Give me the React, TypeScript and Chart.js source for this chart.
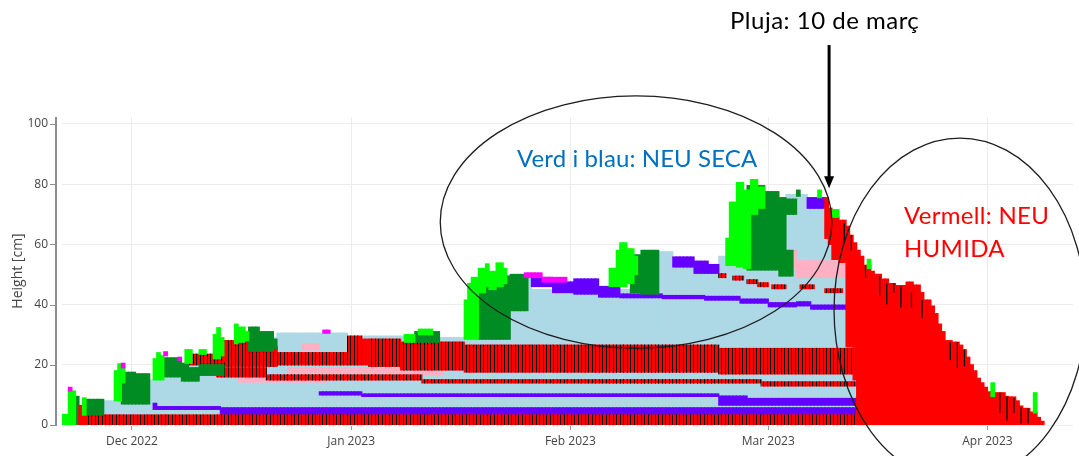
import React, { useEffect, useRef } from 'react';
import { Chart, registerables } from 'chart.js';

Chart.register(...registerables);

// Time axis: days counted from 1 Dec 2022 (day 0). Heights in cm.
const xMinDay = -9.9;
const xMaxDay = 133.1;
const yMaxCm = 102.3;
const monthTickDays = [0, 31, 62, 90, 121];
const monthTickLabels = ['Dec 2022', 'Jan 2023', 'Feb 2023', 'Mar 2023', 'Apr 2023'];
const heightTicks = [0, 20, 40, 60, 80, 100];

// Layer segments: [startDay, endDay, bottomCm, topCm]
const lightBlueLayers = [
  [-4, -2.5, 3.3, 8], [-2.5, 2.5, 3.3, 7.5], [2.5, 4.5, 3.3, 15], [4.5, 9.5, 3.3, 20],
  [9.5, 14.5, 3.3, 19.5], [14.5, 20.5, 3.3, 29], [20.5, 30.5, 3.3, 30.5], [30.5, 38.5, 3.3, 29.5],
  [38.5, 47, 3.3, 29], [47, 53.5, 3.3, 28.5], [53.5, 56.5, 3.3, 49], [56.5, 67.5, 3.3, 45],
  [67.5, 74.5, 3.3, 45], [74.5, 76.5, 3.3, 57.5], [76.5, 83, 3.3, 53], [83, 84.5, 3.3, 56],
  [84.5, 92.5, 3.3, 53], [92.5, 95.5, 3.3, 76.5], [95.5, 98, 3.3, 72], [98, 101, 3.3, 62],
  [101, 102.5, 3.3, 45],
];

const purpleLayers = [
  [3, 3.5, 5.2, 7.2], [3.5, 12.5, 5.2, 6.1], [12.5, 102.5, 3.3, 5.7],
  [26.5, 32.5, 10, 11], [32.5, 83, 9.5, 10.3], [83, 87, 6.6, 9.6], [87, 102.5, 6.6, 8.8],
  [56.5, 59.5, 46, 49], [59.5, 62.5, 44, 47.5], [62.5, 66, 43.5, 48.5], [66, 69, 42.5, 46],
  [69, 75, 42.3, 43.5], [75, 81, 42, 43], [81, 86, 41.5, 42.7], [86, 90, 40.5, 41.8],
  [90, 94, 39.3, 40.6], [94, 96, 39.6, 40.9], [96, 102.5, 38.5, 39.8],
  [76.5, 79.5, 52.5, 55.8], [79.5, 81.5, 50.4, 54.4], [81.5, 83, 50.4, 53.3],
  [95.5, 98, 72, 75.5],
];

const pinkLayers = [
  [15, 27.5, 14.3, 16], [22, 38, 17.5, 19], [38, 44, 16.6, 17.8], [24, 26.5, 25, 27],
  [93, 94, 52, 58], [94, 101, 49, 54.5],
];

const crustLayers = [
  [-6.5, 102.5, 0, 3.3],
  [8, 13, 20, 23.5], [13, 16.5, 19.5, 28], [16.5, 20.5, 19.5, 26], [20.5, 30.5, 20, 24],
  [30.5, 32.5, 20, 29.5], [33.5, 38, 19.5, 28.5], [38, 47, 18.3, 27.5], [47, 83, 17.6, 26.5],
  [83, 102.5, 17, 25.4],
  [12, 19, 16, 19], [19, 41, 15, 16.6], [41, 89, 14, 15], [89, 102.5, 13, 14.3],
  [83, 84, 49, 50.2], [85, 86.5, 48.2, 49.4], [87, 88.5, 47, 48.2], [88.5, 90, 46, 47.2],
  [90.5, 92.5, 45.3, 46.5], [94.5, 96.5, 45.3, 46.5], [98, 100.5, 44, 45.2],
];

const darkGreenLayers = [
  [-8, -7.5, 0, 9.5], [-6.5, -4, 3.3, 8.5], [-1.5, 0.5, 7, 17.5], [0.5, 2.5, 7, 17],
  [4.5, 7, 16, 22.3], [7, 8, 14.6, 20.5], [8, 9.5, 14.6, 19], [9.5, 13, 16.5, 20],
  [16.5, 18, 24.5, 32.5], [18, 20, 24.5, 31], [20, 20.5, 25.5, 28.5],
  [40, 43.5, 27.5, 31],
  [49, 52, 28.5, 46], [52, 53.5, 28.5, 49.5], [53.5, 56, 38, 50],
  [70.5, 72, 44, 56.5], [72, 74.5, 43.5, 58],
  [87, 89.5, 51.5, 79.5], [89.5, 91.5, 51.5, 77.5], [91.5, 92.5, 49.5, 75.5],
  [92.5, 94, 70, 75], [92.5, 93.5, 49.5, 58], [94, 94.5, 76, 78],
];

const wetRedLayers = [
  [-7.5, -7, 0, 6.5], [-7.5, -6.5, 0, 3.3], [13, 13.5, 21, 28], [32.5, 33.5, 20, 28.5],
  [98, 98.5, 62, 75.5], [98.5, 99, 60, 72], [99, 100, 55, 69], [100, 101, 54, 68],
  [101, 101.5, 26, 66], [101.5, 102, 26, 63], [102, 102.5, 15, 60.5],
  [102.5, 103, 0, 58], [103, 103.5, 0, 56], [103.5, 104.5, 0, 53], [104.5, 105, 0, 51],
  [105, 106, 0, 50], [106, 107, 0, 48.5], [107, 108, 0, 47], [108, 109.5, 0, 46.3],
  [109.5, 110.5, 0, 47.5], [110.5, 111.5, 0, 46.5], [111.5, 112, 0, 44], [112, 113, 0, 41.5],
  [113, 113.5, 0, 39.5], [113.5, 114, 0, 37], [114, 114.5, 0, 33.5], [114.5, 115, 0, 31],
  [115, 116, 0, 28], [116, 117, 0, 27.5], [117, 117.5, 0, 26.5], [117.5, 118, 0, 25],
  [118, 118.5, 0, 22.5], [118.5, 119, 0, 20], [119, 119.5, 0, 18], [119.5, 120, 0, 15.5],
  [120, 120.5, 0, 14], [120.5, 121, 0, 12.5], [121, 122, 0, 11], [122, 123.5, 0, 10.7],
  [123.5, 124, 0, 9.5], [124, 125, 0, 9.3], [125, 125.5, 0, 8], [125.5, 126, 0, 6.3],
  [126, 127, 0, 5.5], [127, 128, 0, 4.3], [128, 128.5, 0, 2.5], [128.5, 129, 0, 1.2],
];

const brightGreenLayers = [
  [-10, -9, 0, 3.5], [-9, -8, 0, 11.3], [-7, -6.5, 3.3, 9],
  [-2.5, -2, 8, 18], [-2, -1.5, 8, 20.3], [-1.5, -1, 14, 19],
  [3, 3.5, 15, 22], [3.5, 4, 15, 24], [4, 4.5, 15, 23],
  [7.5, 8.5, 20.5, 25], [9.5, 10.5, 23.5, 25],
  [11.5, 12, 22, 30], [12, 12.5, 22, 32.3], [12.5, 13, 23, 29],
  [14.5, 15, 27, 33.5], [15, 16, 27.5, 32.5], [16, 16.5, 28, 31],
  [38.5, 40, 27.5, 30], [40.5, 42.5, 30, 31.8],
  [47, 47.5, 28.5, 41.5], [47.5, 48, 28.5, 47], [48, 49, 28.5, 49], [49, 50, 44, 52],
  [50, 50.5, 46, 53.5], [50.5, 51.5, 45, 51], [51.5, 52.5, 46, 53.8], [52.5, 53, 47, 52],
  [67.5, 68.5, 46, 52], [68.5, 69, 46, 58], [69, 70, 46, 60.5], [70, 71, 47, 58.5], [71, 71.5, 50, 56],
  [84, 84.5, 53, 62], [84.5, 85.5, 53, 74], [85.5, 86.5, 52.5, 80.5], [86.5, 87.5, 52, 78],
  [87.5, 88.5, 70, 81.5], [88.5, 89.5, 72, 79],
  [97, 97.5, 75.5, 78], [99, 100, 69, 71.5], [104, 104.5, 52, 55],
  [121.5, 122, 9.5, 14], [127.5, 128, 4, 10.7],
];

const magentaLayers = [
  [-9, -8.5, 11.3, 12.5], [-1.5, -1, 19, 20.5], [4.5, 5, 23, 24.3], [6.5, 7, 21.5, 22.5],
  [27, 28, 30.5, 31.5], [55.5, 58, 49, 50.5], [58, 61.5, 47.5, 49],
];

// Thin dark lines inside the wet snow: [day, bottomCm, topCm]
const iceLines = [
  [100.5, 60, 67], [101.5, 58, 63], [103.5, 49, 53], [105.5, 43, 49.5], [106.5, 40, 47],
  [107.5, 44, 47], [108.5, 39, 46], [110, 39, 44], [111.5, 35.5, 41.5], [115.5, 21.5, 27.5],
  [116.5, 19, 27.5], [117.5, 19.5, 25], [122.5, 4, 10.7], [123.5, 1.5, 9.5], [124.5, 4, 9],
  [125.5, 0.5, 6], [126.5, 0.5, 5.5],
];

// Hand-drawn annotations (data units): [centerDay, centerCm, radiusDays, radiusCm]
const dryEllipse = [71.3, 67.4, 27.7, 41.9];
const wetEllipse = [117.1, 38.2, 17.8, 57.1];
// Rain arrow: [day, topCm, tipCm]
const rainArrow = [98.6, 126.2, 78.6];

function expand(segs: number[][]) {
  const pts: { x: number; y: [number, number] }[] = [];
  for (const [d0, d1, lo, hi] of segs) {
    for (let k = d0; k < d1 - 1e-6; k += 0.5) pts.push({ x: k + 0.25, y: [lo, hi] });
  }
  return pts;
}

const FONT = "'Open Sans', sans-serif";

const decorPlugin = {
  id: 'decor',
  afterDraw(chart: any) {
    const { ctx, chartArea: a, scales } = chart;
    const x = scales.x;
    const y = scales.y;
    ctx.save();
    ctx.strokeStyle = '#8c8c8c';
    ctx.lineWidth = 2;
    ctx.beginPath();
    ctx.moveTo(a.left - 6, a.top);
    ctx.lineTo(a.left - 6, a.bottom + 1);
    ctx.stroke();
    ctx.lineWidth = 1;
    ctx.beginPath();
    for (const v of heightTicks) {
      const py = Math.round(y.getPixelForValue(v)) + 0.5;
      ctx.moveTo(a.left - 12, py);
      ctx.lineTo(a.left - 6, py);
    }
    ctx.stroke();

    ctx.strokeStyle = '#1e1e1e';
    ctx.lineWidth = 1.3;
    for (const [cd, cc, rd, rc] of [dryEllipse, wetEllipse]) {
      const cx = x.getPixelForValue(cd);
      const cy = y.getPixelForValue(cc);
      const rx = Math.abs(x.getPixelForValue(cd + rd) - cx);
      const ry = Math.abs(y.getPixelForValue(cc + rc) - cy);
      ctx.beginPath();
      ctx.ellipse(cx, cy, rx, ry, 0, 0, Math.PI * 2);
      ctx.stroke();
    }

    const ax = x.getPixelForValue(rainArrow[0]);
    const top = y.getPixelForValue(rainArrow[1]);
    const tip = y.getPixelForValue(rainArrow[2]);
    ctx.strokeStyle = '#000';
    ctx.fillStyle = '#000';
    ctx.lineWidth = 3;
    ctx.beginPath();
    ctx.moveTo(ax, top);
    ctx.lineTo(ax, tip - 9);
    ctx.stroke();
    ctx.beginPath();
    ctx.moveTo(ax - 5, tip - 12);
    ctx.lineTo(ax + 5, tip - 12);
    ctx.lineTo(ax, tip);
    ctx.closePath();
    ctx.fill();
    ctx.restore();
  },
};

export default function App() {
  const ref = useRef<HTMLCanvasElement | null>(null);

  useEffect(() => {
    const canvas = ref.current;
    if (!canvas) return;
    const pc = document.createElement('canvas');
    pc.width = 7;
    pc.height = 2;
    const pctx = pc.getContext('2d')!;
    pctx.fillStyle = '#ff0000';
    pctx.fillRect(0, 0, 7, 2);
    pctx.fillStyle = '#140000';
    pctx.fillRect(0, 0, 1, 2);
    pctx.fillRect(4, 0, 1, 2);
    const stripe = pctx.createPattern(pc, 'repeat') as CanvasPattern;

    const layer = (label: string, segs: number[][], color: any, order: number) => ({
      label,
      data: expand(segs),
      backgroundColor: color,
      order,
      grouped: false,
      categoryPercentage: 1,
      barPercentage: 1,
      inflateAmount: 0.6,
      borderWidth: 0,
    });

    const chart = new Chart(canvas, {
      type: 'bar',
      data: {
        datasets: [
          layer('Neu seca (grans arrodonits)', lightBlueLayers, '#ADD8E6', 10),
          layer('Cristalls facetats', purpleLayers, '#6400FF', 9),
          layer('Mixta', pinkLayers, '#FFB0C4', 8),
          layer('Crosta de regel', crustLayers, stripe, 7),
          layer('Partícules fragmentades', darkGreenLayers, '#008C23', 6),
          layer('Neu humida', wetRedLayers, '#FF0000', 5),
          layer('Neu nova', brightGreenLayers, '#00FF00', 4),
          layer('Gebre de superfície', magentaLayers, '#FF00FF', 3),
          {
            label: 'Línies de gel',
            data: iceLines.map(([d, lo, hi]) => ({ x: d + 0.25, y: [lo, hi] })),
            backgroundColor: '#000000',
            order: 2,
            grouped: false,
            categoryPercentage: 1,
            barPercentage: 0.35,
            inflateAmount: 0,
            borderWidth: 0,
          },
        ] as any,
      },
      options: {
        animation: false,
        responsive: true,
        maintainAspectRatio: false,
        layout: { padding: { top: 117, right: 6, left: 0, bottom: 0 } },
        plugins: { legend: { display: false }, tooltip: { enabled: false } },
        scales: {
          x: {
            type: 'linear',
            min: xMinDay,
            max: xMaxDay,
            offset: false,
            grid: { offset: false, color: '#ececec', drawTicks: true, tickLength: 5, tickColor: '#999999' },
            border: { display: false },
            ticks: {
              padding: 4,
              color: '#444',
              autoSkip: false,
              maxRotation: 0,
              font: { family: FONT, size: 12 },
              callback: (v: any) => {
                const i = monthTickDays.indexOf(Number(v));
                return i >= 0 ? monthTickLabels[i] : '';
              },
            },
            afterBuildTicks: (s: any) => {
              s.ticks = monthTickDays.map((v) => ({ value: v }));
            },
            afterFit: (s: any) => {
              s.height = 31;
            },
          } as any,
          y: {
            type: 'linear',
            min: 0,
            max: yMaxCm,
            grid: { color: '#ececec', drawTicks: false },
            border: { display: false },
            ticks: { padding: 14, color: '#444', font: { family: FONT, size: 12 } },
            afterBuildTicks: (s: any) => {
              s.ticks = heightTicks.map((v) => ({ value: v }));
            },
            afterFit: (s: any) => {
              s.width = 62;
            },
            title: {
              display: true,
              text: 'Height [cm]',
              color: '#444',
              font: { family: FONT, size: 14 },
              padding: { top: 9.6, bottom: 0 },
            },
          } as any,
        },
      },
      plugins: [decorPlugin],
    });
    return () => chart.destroy();
  }, []);

  const textBase: React.CSSProperties = {
    position: 'absolute',
    fontFamily: 'Lato, sans-serif',
    fontSize: '24px',
    lineHeight: '29px',
    letterSpacing: '0.5px',
    whiteSpace: 'nowrap',
  };

  return (
    <div style={{ position: 'absolute', left: 0, top: 0, width: 1079, height: 456, background: '#fff', overflow: 'hidden' }}>
      <div style={{ position: 'absolute', left: 0, top: 0, width: 1079, height: 456 }}>
        <canvas ref={ref} />
      </div>
      <div style={{ ...textBase, left: 730, top: 4.5, color: '#000' }}>Pluja: 10 de març</div>
      <div style={{ ...textBase, left: 517, top: 143.3, color: '#0070C0', letterSpacing: '0.1px' }}>Verd i blau: NEU SECA</div>
      <div style={{ ...textBase, left: 904, top: 199.5, color: '#FF0000', letterSpacing: '0.3px' }}>Vermell: NEU</div>
      <div style={{ ...textBase, left: 904, top: 232.5, color: '#FF0000', letterSpacing: '0.3px' }}>HUMIDA</div>
    </div>
  );
}
